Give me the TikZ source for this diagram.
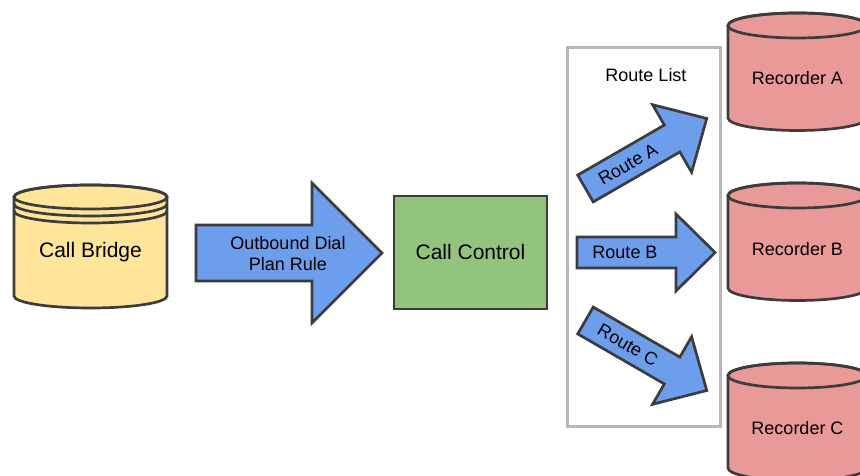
\documentclass[tikz,border=0pt]{standalone}
\usepackage{fontspec}
\setmainfont{Liberation Sans}
\definecolor{bdr}{HTML}{3C3C3C}
\definecolor{yel}{HTML}{FFE599}
\definecolor{grn}{HTML}{93C47D}
\definecolor{pnk}{HTML}{EA9999}
\definecolor{blu}{HTML}{6D9EEB}
\definecolor{gry}{HTML}{B7B7B7}
\begin{document}
\begin{tikzpicture}[x=1pt,y=1pt,
  shapeline/.style={draw=bdr, line width=2.7pt},
  bigtext/.style={font=\fontsize{21}{25}\selectfont, text=black, inner sep=0pt},
  smalltext/.style={font=\fontsize{18}{21}\selectfont, text=black, inner sep=0pt, align=center},
  arrowshape/.style={shapeline, fill=blu}]
\clip (0,0) rectangle (860,476);
\fill[white] (0,0) rectangle (860,476);

% Call Bridge cylinder
\filldraw[shapeline, fill=yel] (14,279) -- (14,180)
  arc[start angle=180, end angle=360, x radius=76.5, y radius=12] -- (167,279)
  arc[start angle=0, end angle=180, x radius=76.5, y radius=12] -- cycle;
\draw[shapeline] (90.5,279) ellipse [x radius=76.5, y radius=12];
\draw[shapeline] (14,272) arc[start angle=180, end angle=360, x radius=76.5, y radius=12];
\draw[shapeline] (14,265) arc[start angle=180, end angle=360, x radius=76.5, y radius=12];
\node[bigtext] (bridge) at (90.5,224) {Call Bridge};

% Outbound arrow
\draw[arrowshape] (196,251) -- (312,251) -- (312,293) -- (382,223) -- (312,153) -- (312,195) -- (196,195) -- cycle;
\node[smalltext] (rule) at (288,222.5) {Outbound Dial\\Plan Rule};

% Call Control
\filldraw[shapeline, fill=grn] (394,167) rectangle (547,280);
\node[bigtext] (control) at (470.5,224) {Call Control};

% Route List
\draw[gry, line width=3pt] (567,49) rectangle (720,428);
\node[smalltext] (list) at (646,401) {Route List};

% Route A
\begin{scope}[shift={(585.5,287.5)}, rotate=30]
\draw[arrowshape] (0,15.5) -- (100,15.5) -- (100,39) -- (140,0) -- (100,-39) -- (100,-15.5) -- (0,-15.5) -- cycle;
\node[smalltext, rotate=30] (ra) at (49,0) {Route A};
\end{scope}

% Route B
\draw[arrowshape] (577,239) -- (676,239) -- (676,262) -- (715,223.5) -- (676,185) -- (676,208) -- (577,208) -- cycle;
\node[smalltext] (rb) at (625,223.5) {Route B};

% Route C
\begin{scope}[shift={(585.5,155.5)}, rotate=-30]
\draw[arrowshape] (0,15.5) -- (100,15.5) -- (100,39) -- (140,0) -- (100,-39) -- (100,-15.5) -- (0,-15.5) -- cycle;
\node[smalltext, rotate=-30] (rc) at (49,0) {Route C};
\end{scope}

% Recorders
\foreach \ty/\by/\nm/\lbl/\txy in {450.5/358/reca/Recorder A/398, 280.5/188/recb/Recorder B/227, 100.5/8/recc/Recorder C/48}{
  \filldraw[shapeline, fill=pnk] (728,\ty) -- (728,\by)
    arc[start angle=180, end angle=360, x radius=69.5, y radius=12.5] -- (867,\ty)
    arc[start angle=0, end angle=180, x radius=69.5, y radius=12.5] -- cycle;
  \draw[shapeline] (797.5,\ty) ellipse [x radius=69.5, y radius=12.5];
  \node[smalltext] (\nm) at (797.5,\txy) {\lbl};
}
\end{tikzpicture}
\end{document}
